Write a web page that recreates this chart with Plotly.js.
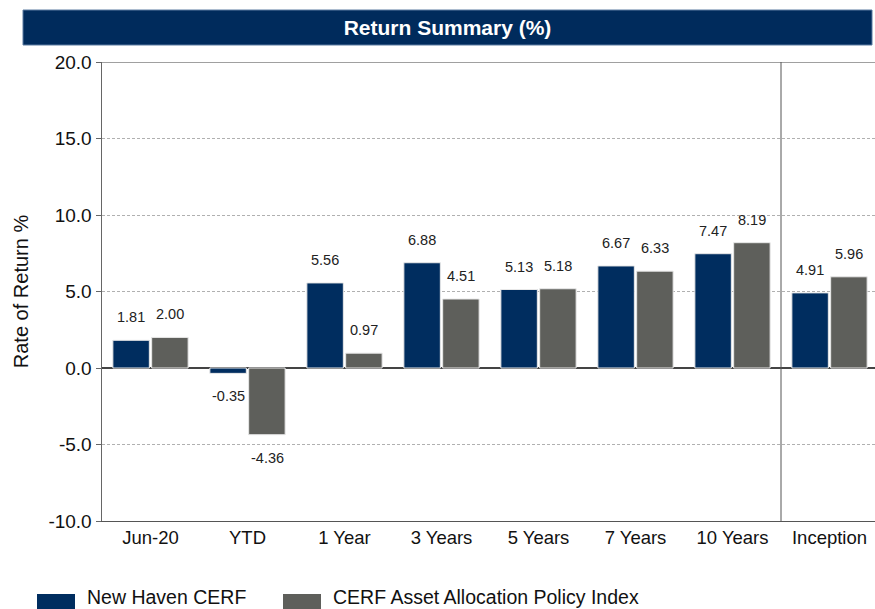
<!DOCTYPE html>
<html>
<head>
<meta charset="utf-8">
<script src="https://cdn.plot.ly/plotly-3.0.1.min.js"></script>
<style>html,body{margin:0;padding:0;overflow:hidden;background:#fff;}#chart{width:878px;height:609px;}</style>
</head>
<body>
<div id="chart"></div>
<script>
const categories = ['Jun-20','YTD','1 Year','3 Years','5 Years','7 Years','10 Years','Inception'];
const seriesNames = ['New Haven CERF','CERF Asset Allocation Policy Index'];
const cerfValues = [1.81, -0.35, 5.56, 6.88, 5.13, 6.67, 7.47, 4.91];
const policyValues = [2.00, -4.36, 0.97, 4.51, 5.18, 6.33, 8.19, 5.96];
const yTickVals = [-10, -5, 0, 5, 10, 15, 20];
const yTickText = ['-10.0', '-5.0', '0.0', '5.0', '10.0', '15.0', '20.0'];
const chartTitle = 'Return Summary (%)';
const yTitle = 'Rate of Return %';

const NAVY = '#002D5F';
const GREY = '#5E5F5B';
const FONT = 'Liberation Sans, Arial, sans-serif';
const W = 878, Hgt = 609;
const L = 102, R = 0, T = 62, B = 88;
const PW = W - L - R, PH = Hgt - T - B;
const px = x => (x - L) / PW;
const py = y => (Hgt - B - y) / PH;

const traces = [
  {type:'bar', name:seriesNames[0], x:categories, y:cerfValues,
   marker:{color:NAVY, line:{color:'#e8e8e8', width:1}}, hoverinfo:'skip', showlegend:false},
  {type:'bar', name:seriesNames[1], x:categories, y:policyValues,
   marker:{color:GREY, line:{color:'#e8e8e8', width:1}}, hoverinfo:'skip', showlegend:false}
];

const annotations = [];
const off = 19.5;
[cerfValues, policyValues].forEach((vals, si) => {
  vals.forEach((v, i) => {
    annotations.push({
      x: categories[i], y: v, xref:'x', yref:'y',
      text: v.toFixed(2), showarrow:false,
      xshift: si === 0 ? -off : off,
      yshift: v >= 0 ? 13 : -13,
      yanchor: v >= 0 ? 'bottom' : 'top',
      font:{family:FONT, size:14.5, color:'#222'}
    });
  });
});

// legend
const legendItems = [{x:37, color:NAVY, name:seriesNames[0]}, {x:283, color:GREY, name:seriesNames[1]}];
const shapes = [
  {type:'rect', xref:'paper', yref:'paper', x0:px(23), x1:px(872), y0:py(45), y1:py(10),
   fillcolor:'#002B5C', line:{color:'#5a7aa0', width:1}, layer:'below'},
  {type:'line', xref:'paper', yref:'y', x0:0, x1:1, y0:20, y1:20, line:{color:'#a0a0a0', width:2}},
  {type:'line', xref:'x', yref:'paper', x0:6.5, x1:6.5, y0:0, y1:1, line:{color:'#555', width:1}}
];
legendItems.forEach(it => {
  shapes.push({type:'rect', xref:'paper', yref:'paper', x0:px(it.x), x1:px(it.x+38), y0:py(615), y1:py(594),
    fillcolor:it.color, line:{width:0}});
  annotations.push({xref:'paper', yref:'paper', x:px(it.x+48), y:py(597), xanchor:'left', yanchor:'middle',
    text:it.name, showarrow:false, font:{family:FONT, size:19.5, color:'#111'}});
});

const layout = {
  width:W, height:Hgt,
  margin:{l:L, r:R, t:T, b:B, pad:0},
  paper_bgcolor:'#fff', plot_bgcolor:'#fff',
  font:{family:FONT, color:'#111'},
  title:{text:'<b>'+chartTitle+'</b>', x:447.5/W, xanchor:'center', y:1-27.5/Hgt, yanchor:'middle',
         font:{family:FONT, size:21, color:'#fff'}},
  barmode:'group', bargap:0.2, bargroupgap:0.06,
  showlegend:false,
  xaxis:{type:'category', showline:true, linecolor:'#555', linewidth:1, ticks:'', showgrid:false,
         tickfont:{family:FONT, size:18.5, color:'#111'}, ticklabelstandoff:0, fixedrange:true},
  yaxis:{range:[-10,20], tickvals:yTickVals, ticktext:yTickText, showline:true, linecolor:'#666', linewidth:1.5,
         ticks:'outside', ticklen:5, tickcolor:'#666', showgrid:true, gridcolor:'#b0b0b0', griddash:'3px,2px', gridwidth:1,
         zeroline:true, zerolinecolor:'#444', zerolinewidth:1.5,
         tickfont:{family:FONT, size:19, color:'#111'},
         title:{text:yTitle, font:{family:FONT, size:20, color:'#111'}, standoff:14}, automargin:false, fixedrange:true},
  shapes:shapes,
  annotations:annotations
};

Plotly.newPlot('chart', traces, layout, {displayModeBar:false, staticPlot:true});
</script>
</body>
</html>
